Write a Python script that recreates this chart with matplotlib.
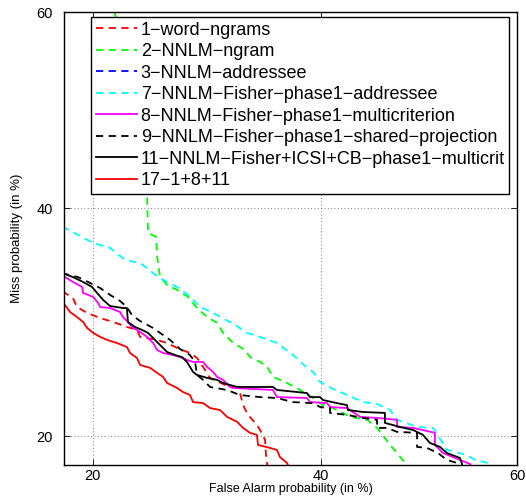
import numpy as np
import matplotlib
matplotlib.use("Agg")
import matplotlib.pyplot as plt
from statistics import NormalDist

plt.rcParams['font.family'] = ['Liberation Sans', 'DejaVu Sans']

# DET curves, values in %: false alarm (x) / miss (y)
fa_1 = [17.87, 18.07, 18.61, 18.89, 19.61, 20.55, 21.51, 22.57, 23.36, 23.60, 24.98, 25.80, 26.64, 27.75,
        28.36, 28.89, 29.51, 30.85, 31.96, 32.23, 32.51, 32.97, 33.81, 34.10, 34.58, 34.67, 34.86]
miss_1 = [31.95, 31.86, 31.40, 30.58, 30.04, 29.59, 29.24, 28.80, 28.54, 27.93, 27.67, 27.40, 26.98, 26.55,
          26.13, 25.39, 24.49, 23.92, 23.68, 23.28, 22.34, 21.59, 20.84, 20.47, 19.75, 18.68, 17.67]

fa_2 = [21.3, 24.1, 24.16, 24.24, 24.89, 24.98, 25.22, 25.80, 26.64, 27.58, 28.36, 29.24, 30.13, 30.67,
        31.59, 32.69, 33.15, 34.10, 34.77, 35.33, 36.69, 37.96, 39.24, 40.24, 41.24, 42.96, 44.69, 45.71,
        47.04, 47.76, 48.58, 48.89]
miss_2 = [62.0, 45.0, 41.34, 37.57, 37.18, 35.24, 33.34, 32.60, 32.14, 31.50, 30.49, 29.68, 29.16, 28.28,
          27.40, 26.81, 26.21, 25.80, 25.39, 24.57, 24.08, 23.52, 22.89, 22.34, 22.11, 21.44, 21.22, 20.62,
          19.39, 18.82, 18.14, 17.67]

fa_3 = []
miss_3 = []

fa_7 = [17.87, 18.07, 20.04, 21.29, 22.42, 23.60, 24.24, 25.06, 25.80, 26.64, 27.58, 28.63, 29.77, 31.77,
        32.88, 34.10, 35.72, 37.27, 38.45, 39.24, 39.94, 41.24, 42.65, 44.28, 45.71, 47.04, 47.76, 49.82,
        51.46, 52.90, 54.95, 55.76, 57.08, 57.49]
miss_7 = [38.15, 38.06, 36.59, 36.11, 34.95, 34.67, 34.10, 33.34, 32.88, 32.42, 31.68, 30.58, 30.04, 28.98,
          28.28, 27.93, 27.40, 26.38, 25.47, 24.98, 24.16, 23.60, 23.12, 22.57, 22.42, 21.96, 21.22, 20.69,
          20.62, 19.03, 18.68, 18.34, 18.14, 17.67]

fa_8 = [17.87, 18.07, 18.61, 19.25, 19.32, 20.04, 20.40, 20.55, 21.29, 22.04, 22.26, 22.65, 22.96, 23.60,
        24.16, 24.65, 24.98, 25.47, 26.30, 27.14, 27.49, 28.01, 28.89, 29.24, 29.77, 30.13, 30.67, 31.31,
        31.59, 35.33, 35.72, 38.65, 38.94, 40.64, 40.94, 42.65, 43.97, 45.71, 47.76, 47.76, 49.41, 51.66,
        51.66, 52.49, 54.23, 55.25, 55.66]
miss_8 = [33.44, 33.34, 32.88, 32.42, 31.86, 31.50, 30.94, 30.58, 30.49, 30.13, 29.68, 29.24, 28.80, 28.36,
          27.93, 27.40, 26.81, 26.55, 26.38, 26.13, 25.97, 25.80, 25.80, 25.39, 24.98, 24.57, 24.33, 23.76,
          23.68, 23.52, 22.96, 22.89, 22.57, 22.49, 22.19, 22.11, 21.44, 21.36, 21.22, 20.69, 20.62, 20.26,
          19.39, 18.82, 18.34, 18.07, 17.67]

fa_9 = [17.87, 18.07, 18.96, 19.82, 20.55, 21.29, 22.04, 22.57, 22.96, 23.60, 24.65, 25.22, 26.05, 26.89,
        27.75, 28.19, 28.36, 28.89, 29.51, 31.04, 32.23, 34.10, 35.72, 37.27, 39.24, 39.94, 40.94, 40.94,
        42.65, 44.28, 45.71, 45.71, 46.73, 47.76, 49.82, 49.82, 50.84, 51.97, 52.90, 53.93, 54.23]
miss_9 = [33.72, 33.63, 33.34, 32.79, 32.32, 31.68, 31.13, 30.58, 29.86, 29.33, 28.71, 28.28, 27.67, 26.89,
          26.38, 25.80, 24.73, 24.33, 23.76, 23.52, 23.12, 22.96, 22.89, 22.57, 22.49, 22.19, 22.11, 21.74,
          21.59, 21.36, 21.22, 20.62, 20.62, 20.33, 20.26, 19.25, 19.18, 18.82, 18.34, 18.14, 17.67]

fa_11 = [17.87, 18.07, 18.61, 19.32, 19.96, 20.33, 20.77, 21.29, 22.26, 22.57, 22.65, 23.20, 23.76, 24.24,
         24.81, 25.22, 25.80, 26.47, 27.06, 27.49, 27.75, 28.01, 28.36, 29.24, 30.13, 30.67, 31.96, 35.33,
         35.72, 38.65, 38.94, 39.94, 40.24, 41.64, 42.65, 42.75, 44.28, 46.52, 46.52, 48.07, 49.41, 50.43,
         51.15, 52.18, 52.90, 54.23, 54.44, 54.54]
miss_11 = [33.72, 33.63, 33.34, 32.88, 32.42, 31.86, 31.22, 30.67, 30.49, 30.49, 29.24, 28.80, 28.54, 28.28,
           27.67, 27.23, 26.64, 26.38, 26.21, 25.80, 25.39, 24.98, 24.73, 24.49, 24.33, 24.08, 23.76, 23.76,
           23.52, 23.28, 22.96, 22.96, 22.73, 22.49, 22.34, 21.96, 21.81, 21.74, 20.99, 20.69, 20.47, 20.11,
           19.53, 19.25, 18.82, 18.48, 18.07, 17.67]

fa_17 = [17.87, 18.07, 18.41, 18.89, 19.32, 19.61, 20.04, 20.55, 21.06, 21.81, 22.57, 22.81, 23.36, 23.60,
         24.41, 24.98, 25.47, 25.80, 26.64, 27.14, 27.75, 28.01, 28.89, 29.51, 30.40, 31.04, 31.96, 32.51,
         33.15, 33.81, 33.91, 35.05, 35.72, 36.01, 36.69, 36.98]
miss_17 = [31.04, 30.76, 30.13, 29.68, 29.24, 28.71, 28.28, 27.93, 27.67, 27.40, 27.06, 26.55, 26.13, 25.55,
           25.31, 24.89, 24.57, 24.08, 23.68, 23.36, 23.12, 22.57, 22.49, 22.11, 21.96, 21.44, 21.07, 20.62,
           20.26, 20.11, 19.39, 19.18, 19.03, 18.54, 18.14, 17.67]

labels = ['1\u2212word\u2212ngrams', '2\u2212NNLM\u2212ngram', '3\u2212NNLM\u2212addressee',
          '7\u2212NNLM\u2212Fisher\u2212phase1\u2212addressee',
          '8\u2212NNLM\u2212Fisher\u2212phase1\u2212multicriterion',
          '9\u2212NNLM\u2212Fisher\u2212phase1\u2212shared\u2212projection',
          '11\u2212NNLM\u2212Fisher+ICSI+CB\u2212phase1\u2212multicrit',
          '17\u22121+8+11']
ticks = [20, 40, 60]

nd = NormalDist()


def probit(v):
    v = np.clip(np.asarray(v, float) / 100.0, 1e-9, 1 - 1e-9)
    return np.vectorize(nd.inv_cdf, otypes=[float])(v)


def unprobit(v):
    return np.vectorize(nd.cdf, otypes=[float])(np.asarray(v, float)) * 100.0


fig = plt.figure(figsize=(5.26, 4.99), dpi=100)
ax = fig.add_axes([64 / 526, 1 - 465 / 499, 453 / 526, 453 / 499])
ax.set_xscale('function', functions=(probit, unprobit))
ax.set_yscale('function', functions=(probit, unprobit))

lw = 1.3
dash = (4, 3)
ax.plot(fa_1, miss_1, color='#ff0000', lw=lw, ls='--', dashes=dash, label=labels[0])
ax.plot(fa_2, miss_2, color='#00ff00', lw=lw, ls='--', dashes=dash, label=labels[1])
ax.plot(fa_3, miss_3, color='#0000ff', lw=lw, ls='--', dashes=dash, label=labels[2])
ax.plot(fa_7, miss_7, color='#00ffff', lw=lw, ls='--', dashes=dash, label=labels[3])
ax.plot(fa_8, miss_8, color='#ff00ff', lw=lw, label=labels[4])
ax.plot(fa_9, miss_9, color='k', lw=lw, ls='--', dashes=dash, label=labels[5])
ax.plot(fa_11, miss_11, color='k', lw=lw, label=labels[6])
ax.plot(fa_17, miss_17, color='#ff0000', lw=lw, label=labels[7])

ax.set_xlim(18, 60)
ax.set_ylim(18, 60)
ax.set_xticks(ticks)
ax.set_yticks(ticks)
ax.set_xticklabels([str(t) for t in ticks])
ax.set_yticklabels([str(t) for t in ticks])
ax.minorticks_off()
ax.tick_params(direction='in', top=True, right=True, labelsize=10.5, length=4, width=0.6)
ax.tick_params(axis='y', pad=8)
ax.tick_params(axis='x', pad=3)
ax.grid(True, ls=(0, (1, 3)), color='#555555', lw=0.6)
for s in ax.spines.values():
    s.set_linewidth(1.0)

ax.set_xlabel('False Alarm probability (in %)', fontsize=9, labelpad=0)
ax.set_ylabel('Miss probability (in %)', fontsize=9.5, labelpad=10)

leg = ax.legend(loc='upper left', bbox_to_anchor=((91 - 64) / 453, (465 - 17) / 453),
                fontsize=13, frameon=True, fancybox=False, framealpha=1,
                edgecolor='k', handlelength=2.3, handletextpad=0.2, borderpad=0.25,
                labelspacing=0.25, borderaxespad=0)
leg.get_frame().set_linewidth(1.0)

fig.savefig('out.png', dpi=100)
